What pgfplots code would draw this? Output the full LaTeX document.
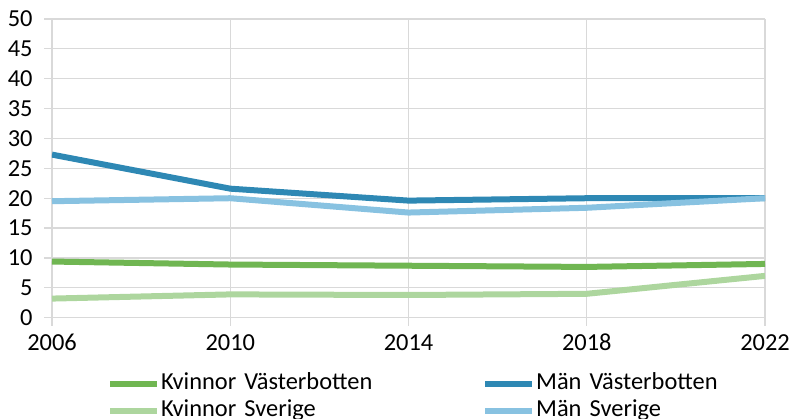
\documentclass[border=0pt]{standalone}
\usepackage{fontspec}
\setmainfont{Carlito}
\usepackage{pgfplots}
\pgfplotsset{compat=1.18}
\definecolor{gridgray}{HTML}{D9D9D9}
\definecolor{kvb}{HTML}{70B652}
\definecolor{ksv}{HTML}{ADD69E}
\definecolor{mvb}{HTML}{2E88B4}
\definecolor{msv}{HTML}{88C2E1}
\begin{document}
\begin{tikzpicture}
\path[use as bounding box] (-52bp,-101.3bp) rectangle (737bp,317.7bp);
\begin{axis}[
  at={(0,0)}, anchor=origin,
  scale only axis, width=713bp, height=298.7bp,
  xmin=2006, xmax=2022, ymin=0, ymax=50,
  xtick={2006,2010,2014,2018,2022},
  ytick={0,5,...,50},
  grid=major,
  major grid style={gridgray, line width=1.2bp},
  axis line style={draw=none},
  tick align=outside, major tick length=8bp,
  tick style={gridgray, line width=1.2bp},
  xtick pos=bottom, ytick pos=left,
  /pgf/number format/assume math mode=true,
  /pgf/number format/1000 sep={},
  tick label style={font=\fontsize{24.5}{28}\selectfont, text=black},
  yticklabel style={xshift=-8bp},
  xticklabel style={yshift=-5bp},
  legend columns=2,
  legend cell align=left,
  legend style={draw=none, fill=none, at={(52bp,-53bp)}, anchor=north west,
    font=\fontsize{24.5}{28}\selectfont,
    nodes={text width=320bp, align=left, inner sep=1bp, text height=16bp, text depth=5bp},
    row sep=4bp},
  legend image code/.code={\draw[line width=6bp,#1] (0bp,0bp) -- (47bp,0bp);},
]
\addplot[kvb, line width=6bp] coordinates {(2006,9.4) (2010,8.9) (2014,8.7) (2018,8.5) (2022,9.0)};
\addlegendentry{Kvinnor Västerbotten}
\addplot[mvb, line width=6bp] coordinates {(2006,27.3) (2010,21.6) (2014,19.6) (2018,20.0) (2022,20.0)};
\addlegendentry{Män Västerbotten}
\addplot[ksv, line width=6bp] coordinates {(2006,3.2) (2010,3.9) (2014,3.8) (2018,4.0) (2022,7.0)};
\addlegendentry{Kvinnor Sverige}
\addplot[msv, line width=6bp] coordinates {(2006,19.5) (2010,20.0) (2014,17.6) (2018,18.4) (2022,20.0)};
\addlegendentry{Män Sverige}
\end{axis}
\end{tikzpicture}
\end{document}
